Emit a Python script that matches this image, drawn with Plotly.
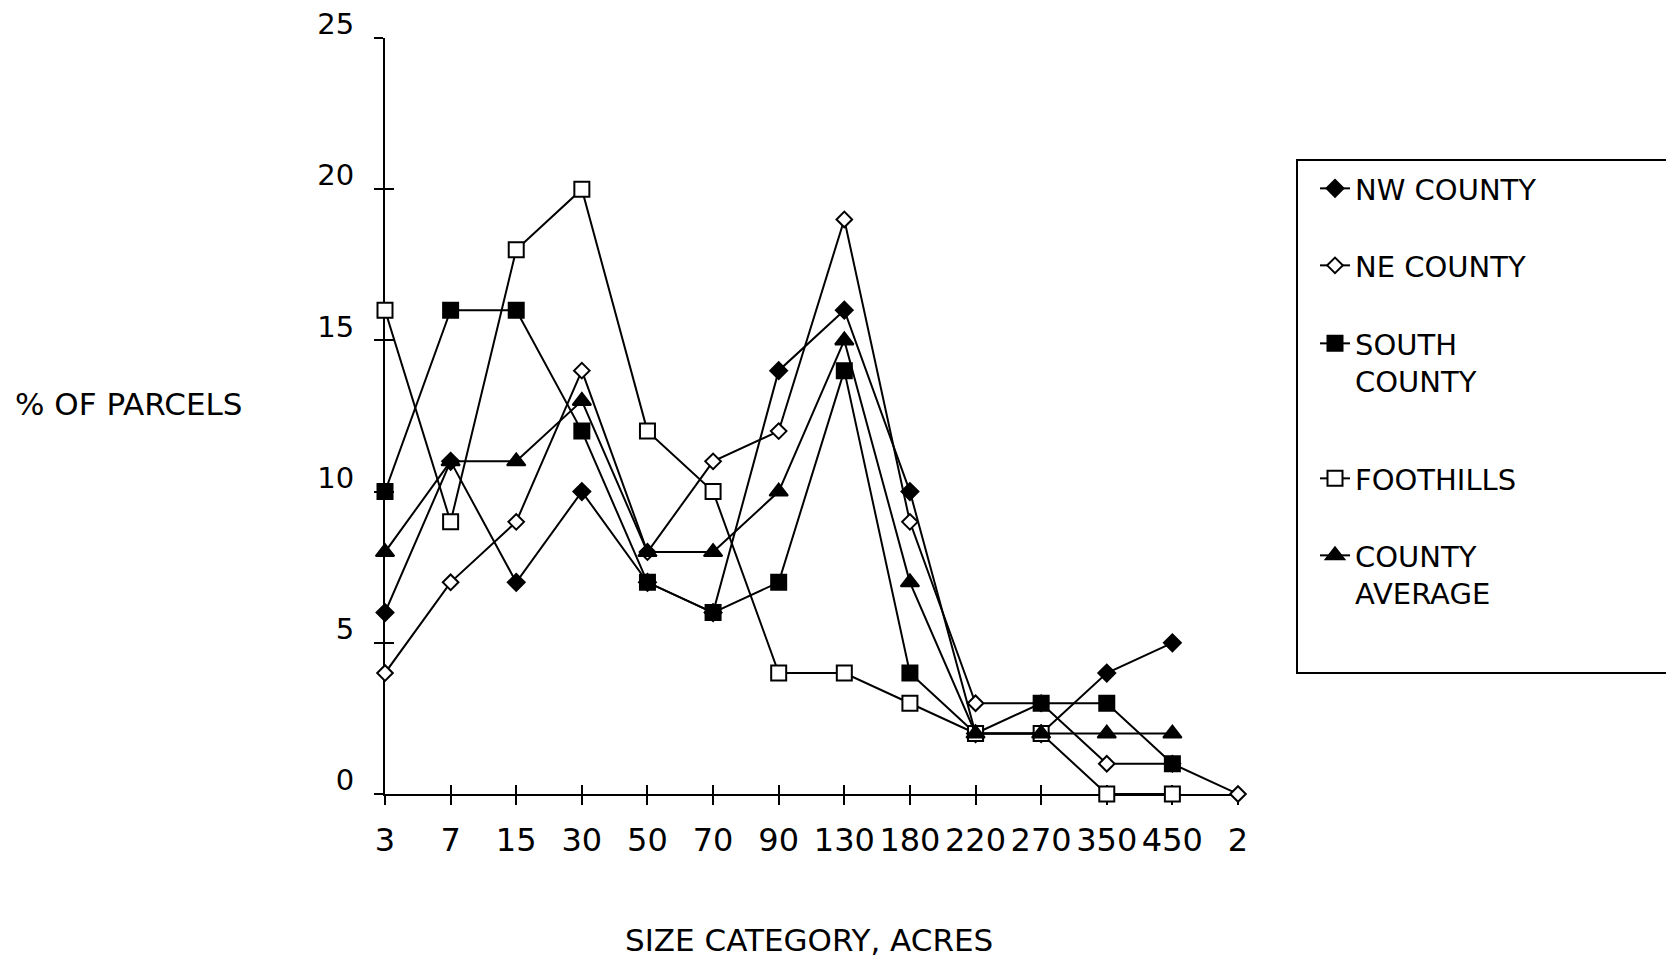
import plotly.graph_objs as go

# size categories (acres) and % of parcels per region
categories = ["3", "7", "15", "30", "50", "70", "90", "130", "180", "220", "270", "350", "450", "2"]
nw_county = [6, 11, 7, 10, 7, 6, 14, 16, 10, 2, 2, 4, 5, None]
ne_county = [4, 7, 9, 14, 8, 11, 12, 19, 9, 3, 3, 1, 1, 0]
south_county = [10, 16, 16, 12, 7, 6, 7, 14, 4, 2, 3, 3, 1, None]
foothills = [16, 9, 18, 20, 12, 10, 4, 4, 3, 2, 2, 0, 0, None]
county_average = [8, 11, 11, 13, 8, 8, 10, 15, 7, 2, 2, 2, 2, None]

FONT = "DejaVu Sans"

# the page body has an 8px margin, so the figure is drawn 16px smaller
W, H = 1658, 953
L, T = 377, 30          # plot area left / top inside the figure
PW, PH = 853, 756       # plot area width / height


def px_x(x):
    return (x - L) / PW


def px_y(y):
    return (T + PH - y) / PH


def series(name, y, symbol, size, filled, legend):
    return go.Scatter(
        x=categories, y=y, name=name, mode="lines+markers",
        legend=legend,
        line=dict(color="black", width=2),
        marker=dict(symbol=symbol, size=size,
                    color="black" if filled else "white",
                    line=dict(color="black", width=2)),
        cliponaxis=False,
    )


data = [
    series("NW COUNTY", nw_county, "diamond", 13, True, "legend"),
    series("NE COUNTY", ne_county, "diamond", 12, False, "legend2"),
    series("SOUTH<br>COUNTY", south_county, "square", 15, True, "legend3"),
    series("FOOTHILLS", foothills, "square", 15, False, "legend4"),
    series("COUNTY<br>AVERAGE", county_average, "triangle-up", 16, True, "legend5"),
]

# invisible trace so the overlay axes (inner half of the cross ticks) get drawn
data.append(go.Scatter(x=[0], y=[0], xaxis="x2", yaxis="y2", mode="markers",
                       marker=dict(opacity=0), showlegend=False, hoverinfo="skip"))


def legend_at(center_y):
    return dict(
        xref="container", yref="container",
        x=1307 / W, y=1 - (center_y - 26) / H, xanchor="left", yanchor="top",
        borderwidth=0, bgcolor="rgba(0,0,0,0)", valign="top",
        font=dict(family=FONT, size=29),
    )


tick_common = dict(showgrid=False, zeroline=False, tickcolor="black",
                   tickwidth=2, ticklen=9, layer="below traces",
                   automargin=False)

layout = go.Layout(
    width=W, height=H,
    paper_bgcolor="white", plot_bgcolor="white",
    margin=dict(l=L, r=W - L - PW, t=T, b=H - T - PH),
    font=dict(family=FONT, size=29, color="black"),
    xaxis=dict(
        type="category", categoryorder="array", categoryarray=categories,
        range=[0, 13], showline=True, linecolor="black", linewidth=2,
        ticks="outside", ticklabelstandoff=8,
        tickfont=dict(family=FONT, size=32), **tick_common,
    ),
    yaxis=dict(
        range=[0, 25], dtick=5, showline=True, linecolor="black", linewidth=2,
        ticks="outside", ticklabelstandoff=14, ticklabelshift=-14,
        ticklabeloverflow="allow",
        tickfont=dict(family=FONT, size=29), **tick_common,
    ),
    xaxis2=dict(overlaying="x", anchor="y2", range=[0, 13], dtick=1,
                showticklabels=False, ticks="inside", **tick_common),
    yaxis2=dict(overlaying="y", anchor="x2", range=[0, 25], dtick=5,
                showticklabels=False, ticks="inside", **tick_common),
    legend=legend_at(181),
    legend2=legend_at(258),
    legend3=legend_at(336),
    legend4=legend_at(471),
    legend5=legend_at(548),
    shapes=[
        dict(type="rect", xref="paper", yref="paper",
             x0=px_x(1289), x1=px_x(1661), y0=px_y(665), y1=px_y(152),
             line=dict(color="black", width=2), fillcolor="rgba(0,0,0,0)",
             layer="below"),
    ],
    annotations=[
        dict(text="% OF PARCELS", xref="paper", yref="paper",
             x=px_x(5), y=px_y(396),
             xanchor="left", yanchor="middle", showarrow=False,
             font=dict(family=FONT, size=31)),
        dict(text="SIZE CATEGORY, ACRES", xref="paper", yref="paper",
             x=px_x(801), y=px_y(932),
             xanchor="center", yanchor="middle", showarrow=False,
             font=dict(family=FONT, size=31)),
    ],
)

fig = go.Figure(data=data, layout=layout)
fig.write_html("out.html")
